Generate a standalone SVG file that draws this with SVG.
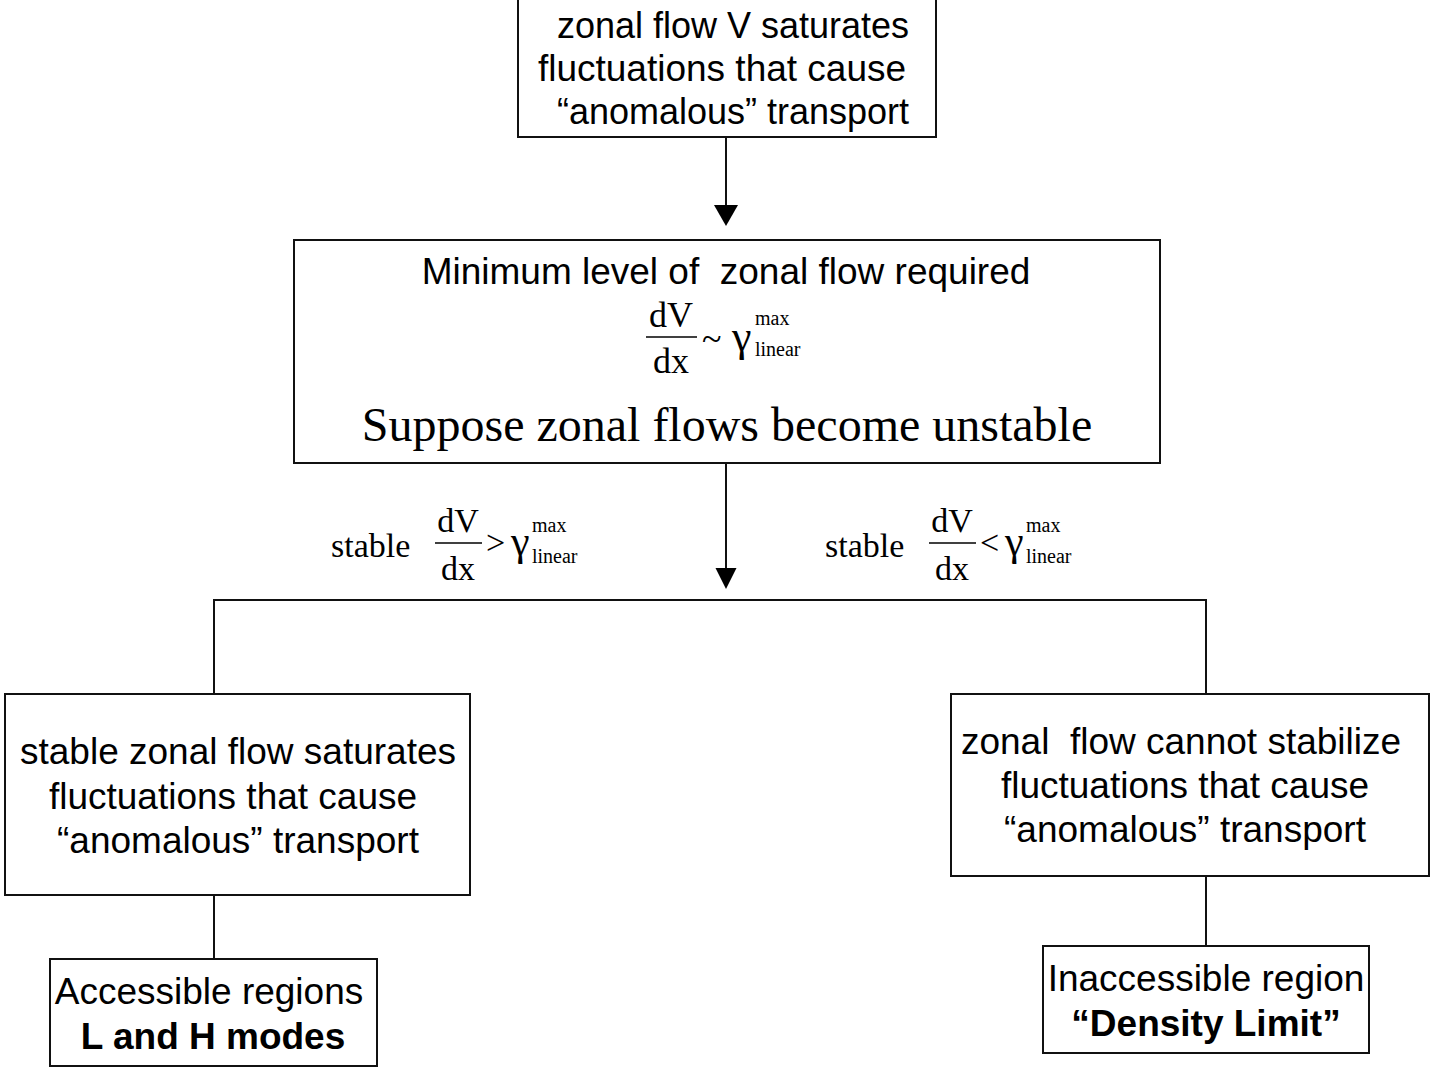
<svg xmlns="http://www.w3.org/2000/svg" width="1432" height="1067" viewBox="0 0 1432 1067">
<style>
text{white-space:pre}
.box{fill:#fff;stroke:#111;stroke-width:2}
.ln{fill:none;stroke:#111;stroke-width:2}
.sans{font-family:"Liberation Sans",Arial,sans-serif;font-size:37px;fill:#000;text-anchor:middle}
.s36{font-size:36px}
.b{font-weight:bold}
.serif{font-family:"Liberation Serif","Times New Roman",serif;fill:#000}
.big{font-size:48px;text-anchor:middle}
.fr{font-size:36px;text-anchor:middle}
.fr2{font-size:34px;text-anchor:middle}
.sup{font-size:20px}
</style>
<rect width="1432" height="1067" fill="#fff"/>
<g id="connectors">
<line class="ln" x1="726" y1="137" x2="726" y2="206"/>
<polygon points="714,205 738,205 726,226" fill="#000"/>
<line class="ln" x1="726" y1="463" x2="726" y2="569"/>
<polygon points="715.5,568 736.5,568 726,589" fill="#000"/>
<polyline class="ln" points="214,694 214,600 1206,600 1206,694"/>
<line class="ln" x1="214" y1="895" x2="214" y2="959"/>
<line class="ln" x1="1206" y1="876" x2="1206" y2="946"/>
<g id="label-left">
<text class="serif" x="331" y="557" font-size="34">stable</text>
<text class="serif fr2" x="458" y="532">dV</text>
<line x1="435" y1="543" x2="482" y2="543" stroke="#000" stroke-width="1.5"/>
<text class="serif fr2" x="458" y="580">dx</text>
<text class="serif" x="486" y="554" font-size="34">&gt;</text>
<text class="serif" x="511" y="555" font-size="42">γ</text>
<text class="serif sup" x="532" y="532">max</text>
<text class="serif sup" x="532" y="563">linear</text>
</g>
<g id="label-right">
<text class="serif" x="825" y="557" font-size="34">stable</text>
<text class="serif fr2" x="952" y="532">dV</text>
<line x1="929" y1="543" x2="976" y2="543" stroke="#000" stroke-width="1.5"/>
<text class="serif fr2" x="952" y="580">dx</text>
<text class="serif" x="980" y="554" font-size="34">&lt;</text>
<text class="serif" x="1005" y="555" font-size="42">γ</text>
<text class="serif sup" x="1026" y="532">max</text>
<text class="serif sup" x="1026" y="563">linear</text>
</g>
</g>
<g id="node-top">
<rect class="box" x="518" y="-2" width="418" height="139"/>
<text class="sans s36" x="733" y="38">zonal flow V saturates</text>
<text class="sans" x="722" y="81">fluctuations that cause</text>
<text class="sans s36" x="733" y="124">“anomalous” transport</text>
</g>
<g id="node-minimum">
<rect class="box" x="294" y="240" width="866" height="223"/>
<text class="sans" x="726" y="284">Minimum level of  zonal flow required</text>
<text class="serif fr" x="671" y="327">dV</text>
<line x1="646" y1="337" x2="697" y2="337" stroke="#000" stroke-width="1.5"/>
<text class="serif fr" x="671" y="373">dx</text>
<text class="serif" x="702" y="351" font-size="36">~</text>
<text class="serif" x="732" y="351" font-size="44">γ</text>
<text class="serif sup" x="755" y="325">max</text>
<text class="serif sup" x="755" y="356">linear</text>
<text class="serif big" x="727" y="441">Suppose zonal flows become unstable</text>
</g>
<g id="node-stable">
<rect class="box" x="5" y="694" width="465" height="201"/>
<text class="sans" x="238" y="764">stable zonal flow saturates</text>
<text class="sans" x="233" y="809">fluctuations that cause</text>
<text class="sans" x="238" y="853">“anomalous” transport</text>
</g>
<g id="node-unstable">
<rect class="box" x="951" y="694" width="478" height="182"/>
<text class="sans" x="1181" y="754">zonal  flow cannot stabilize</text>
<text class="sans" x="1185" y="798">fluctuations that cause</text>
<text class="sans" x="1185" y="842">“anomalous” transport</text>
</g>
<g id="node-accessible">
<rect class="box" x="50" y="959" width="327" height="107"/>
<text class="sans" x="209" y="1004">Accessible regions</text>
<text class="sans b" x="213" y="1049">L and H modes</text>
</g>
<g id="node-inaccessible">
<rect class="box" x="1043" y="946" width="326" height="107"/>
<text class="sans" x="1206" y="991">Inaccessible region</text>
<text class="sans b" x="1206" y="1036">“Density Limit”</text>
</g>
</svg>
